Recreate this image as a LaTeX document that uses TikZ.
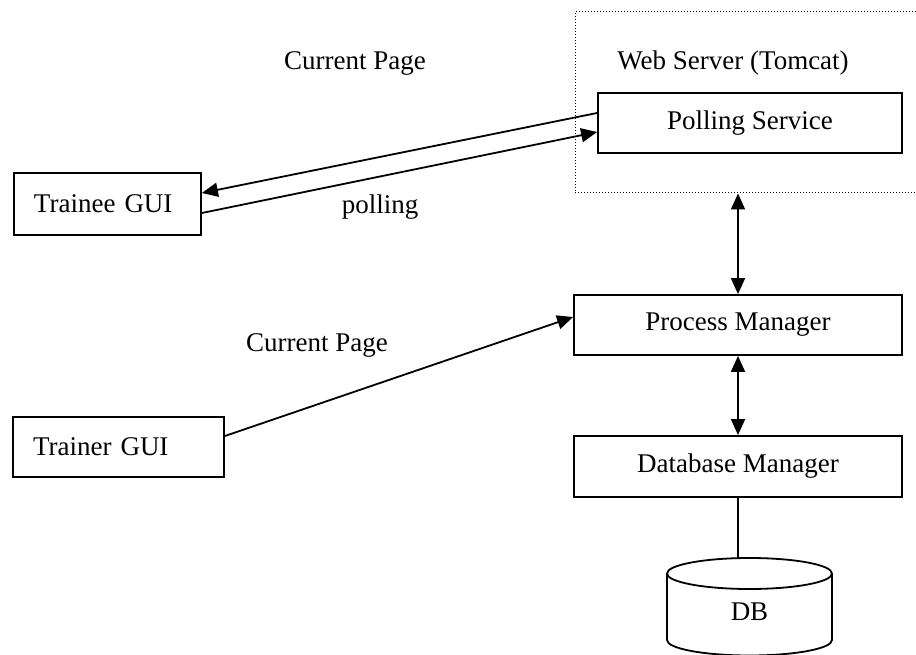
\documentclass[tikz,border=0pt]{standalone}
\usepackage{fontspec}
\setmainfont{Liberation Serif}
\usetikzlibrary{arrows.meta}
\begin{document}
\begin{tikzpicture}[x=1pt,y=-1pt,font=\fontsize{27}{32}\selectfont,
        box/.style={draw,line width=1.8pt,minimum height=60pt,inner sep=0pt},
        guibox/.style={box,align=left,inner xsep=20pt},
        arr/.style={line width=1.8pt,-{Triangle[length=16pt,width=14pt]}},
        darr/.style={line width=1.8pt,{Triangle[length=16pt,width=14pt]}-{Triangle[length=16pt,width=14pt]}}]
    \useasboundingbox (0,0) rectangle (916,655);
    \node[draw,dotted,line width=1pt,minimum width=365pt,minimum height=181pt] (web) at (757.5,102.5) {};
    \node (weblbl) at (733,63) {Web Server (Tomcat)};
    \node[box,minimum width=304pt] (poll) at (750,123) {Polling Service};
    \node[box,minimum width=328pt] (proc) at (738,325) {Process Manager};
    \node[box,minimum width=328pt,minimum height=61pt] (dbman) at (738,466.5) {Database Manager};
    \node[guibox,text width=147pt,minimum height=62pt] (trainee) at (107.5,204) {Trainee GUI};
    \node[guibox,text width=171pt] (trainer) at (118.5,447) {Trainer GUI};
    \node (curtop) at (355,63) {Current Page};
    \node (pollinglbl) at (380,207) {polling};
    \node (curbot) at (317,345) {Current Page};
    % polling loop between trainee and server
    \draw[arr] ([yshift=10pt]poll.west) -- ([yshift=11pt]trainee.east);
    \draw[arr] ([yshift=-9pt]trainee.east) -- ([yshift=-9pt]poll.west);
    \draw[arr] ([yshift=11pt]trainer.east) -- ([yshift=8pt]proc.west);
    \draw[darr] (proc.north) -- (proc.north |- web.south);
    \draw[darr] (proc.south) -- (dbman.north);
    % database
    \node (db) at (749.5,612) {DB};
    \coordinate (dbtop) at (749.5,558);
    \draw[line width=1.8pt] (dbman.south) -- (dbman.south |- dbtop);
    \draw[line width=1.8pt] (749.5,573.5) ellipse [x radius=82.5pt,y radius=15.5pt];
    \draw[line width=1.8pt] (667,573.5) -- (667,640) arc[start angle=180,end angle=360,x radius=82.5pt,y radius=15.5pt] -- (832,573.5);
\end{tikzpicture}
\end{document}
